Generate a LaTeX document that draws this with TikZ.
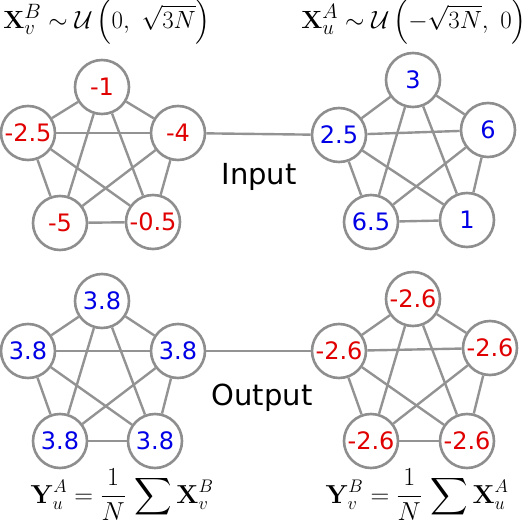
\RequirePackage{fix-cm}
\documentclass[tikz,border=0pt]{standalone}
\usepackage{amsmath, amssymb}
\usepackage[no-math]{fontspec}
\newfontfamily\labelfont{DejaVu Sans}
\usepackage{tikz}
\usetikzlibrary{positioning}
\usepackage{xcolor}
\definecolor{valred}{HTML}{E00000}
\definecolor{valblue}{HTML}{0000E6}
\definecolor{ringgray}{HTML}{8E8E8E}
\definecolor{linkgray}{HTML}{939393}

\tikzset{
  vertex/.style={circle, draw=ringgray, line width=2.6pt, fill=white,
                 minimum size=54pt, inner sep=0pt,
                 font=\labelfont\fontsize{24}{28}\selectfont},
  redval/.style={vertex, text=valred},
  blueval/.style={vertex, text=valblue},
  link/.style={draw=linkgray, line width=2.4pt},
  phase/.style={font=\labelfont\fontsize{29}{34}\selectfont},
  formula/.style={anchor=base, font=\Huge},
  meanformula/.style={anchor=base, font=\fontsize{26}{30}\selectfont}
}

\begin{document}
\begin{tikzpicture}[x=1pt, y=-1pt]
      \useasboundingbox (0,0) rectangle (530,522);

      % input, set B
      \node[redval] (xb1) at (102, 87)  {-1};
      \node[redval] (xb2) at (28, 133)  {-2.5};
      \node[redval] (xb3) at (178, 133) {-4};
      \node[redval] (xb4) at (60, 223)  {-5};
      \node[redval] (xb5) at (153, 222) {-0.5};

      % input, set A
      \node[blueval] (xa1) at (413, 80)  {3};
      \node[blueval] (xa2) at (339, 135) {2.5};
      \node[blueval] (xa3) at (488, 130) {6};
      \node[blueval] (xa4) at (371, 222) {6.5};
      \node[blueval] (xa5) at (467, 220) {1};

      % output, set A
      \node[blueval] (ya1) at (102, 301) {3.8};
      \node[blueval] (ya2) at (28, 351)  {3.8};
      \node[blueval] (ya3) at (178, 351) {3.8};
      \node[blueval] (ya4) at (60, 441)  {3.8};
      \node[blueval] (ya5) at (155, 441) {3.8};

      % output, set B
      \node[redval] (yb1) at (413, 299) {-2.6};
      \node[redval] (yb2) at (339, 351) {-2.6};
      \node[redval] (yb3) at (490, 348) {-2.6};
      \node[redval] (yb4) at (371, 441) {-2.6};
      \node[redval] (yb5) at (467, 441) {-2.6};

      \foreach \g in {xb, xa, ya, yb}
        \foreach \a/\b in {1/2, 1/3, 1/4, 1/5, 2/3, 2/4, 2/5, 3/4, 3/5, 4/5}
          \draw[link] (\g\a) -- (\g\b);
      \draw[link] (xb3) -- (xa2);
      \draw[link] (ya3) -- (yb2);

      \node[phase] (input) at (259, 177) {Input};
      \node[phase] (output) at (262, 398) {Output};

      \node[formula] (xbdist) at (107, 28)
        {$\mathbf{X}_v^B \sim \mathcal{U}\left(0,\ \sqrt{3N}\right)$};
      \node[formula] (xadist) at (414, 28)
        {$\mathbf{X}_u^A \sim \mathcal{U}\left(-\sqrt{3N},\ 0\right)$};
      \node[meanformula] (yamean) at (122, 503)
        {$\displaystyle \mathbf{Y}_u^A = \frac{1}{N}\,\sum \mathbf{X}_v^B$};
      \node[meanformula] (ybmean) at (417, 503)
        {$\displaystyle \mathbf{Y}_v^B = \frac{1}{N}\,\sum \mathbf{X}_u^A$};
    \end{tikzpicture}
\end{document}
